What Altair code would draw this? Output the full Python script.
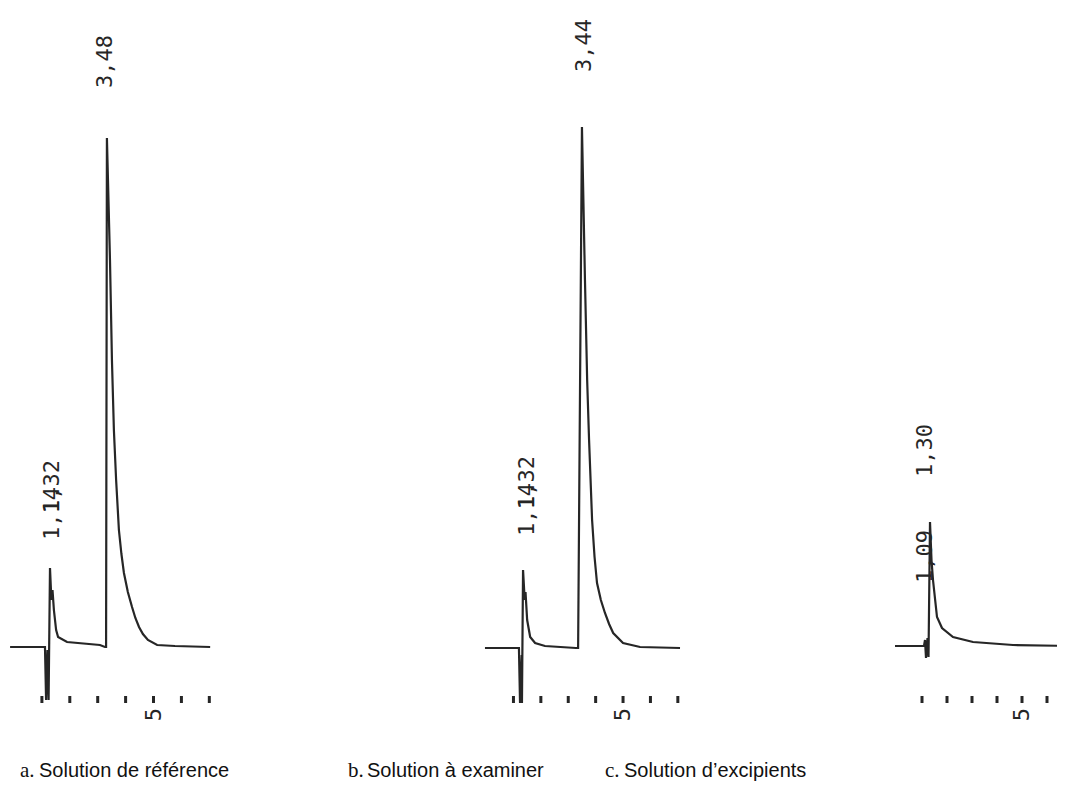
import altair as alt
import pandas as pd

# ---------------- data ----------------
# Panel a: Solution de référence (time in min, signal in arbitrary units)
a_time = [-0.14, 1.11, 1.15, 1.20, 1.24, 1.29, 1.34, 1.38, 1.43, 1.51, 1.58, 1.90, 3.08,
          3.26, 3.30, 3.33, 3.44, 3.51, 3.58, 3.66, 3.76, 3.85, 3.94, 4.08, 4.23, 4.35,
          4.48, 4.62, 4.80, 5.13, 5.77, 7.03]
a_signal = [0, 0, -53, -3, -53, 79, 47, 57, 37, 17, 10, 5, 2,
            0, 0, 509, 387, 287, 217, 167, 117, 93, 74, 55, 40, 29, 20, 13, 7, 2, 1, 0]

# Panel b: Solution à examiner
b_time = [-0.04, 1.20, 1.24, 1.30, 1.31, 1.35, 1.41, 1.44, 1.50, 1.61, 1.79, 2.15, 3.28,
          3.36, 3.50, 3.61, 3.69, 3.76, 3.87, 3.96, 4.05, 4.19, 4.34, 4.49, 4.64, 5.00, 5.62, 7.08]
b_signal = [-1, -1, -56, -8, -56, 77, 47, 55, 27, 10, 4, 1, -1,
            -1, 520, 367, 267, 207, 127, 90, 64, 47, 34, 23, 14, 4, 0, -1]

# Panel c: Solution d'excipients
c_time = [-0.08, 1.08, 1.12, 1.16, 1.22, 1.26, 1.32, 1.38, 1.44, 1.60, 1.80, 2.24, 3.04, 4.64, 6.92]
c_signal = [1, 1, 7, -11, 9, -10, 125, 87, 67, 30, 19, 10, 5, 2, 1]

# retention-time labels: text, time, signal level of the label's lower end
a_labels = ["3,48", "1,14", "1,32"]
a_label_time = [3.26, 1.36, 1.36]
a_label_sig = [559, 107, 134]

b_labels = ["3,44", "1,14", "1,32"]
b_label_time = [3.58, 1.50, 1.50]
b_label_sig = [575, 111, 138]

c_labels = ["1,30", "1,09"]
c_label_time = [1.12, 1.12]
c_label_sig = [170, 64]

# time-axis ticks (minutes) and the one labelled tick
a_ticks = [1, 2, 3, 4, 5, 6, 7]
b_ticks = [1, 2, 3, 4, 5, 6, 7]
c_ticks = [1, 2, 3, 4, 5, 6]
tick_label = ["5"]
tick_label_time = [5]

letters = ["a.", "b.", "c."]
captions = ["Solution de référence", "Solution à examiner", "Solution d\u2019excipients"]

# ---------------- layout / style ----------------
W, H = 1049, 776
Y_DOMAIN = [-137, 639]
INK = "#262626"
MONO = "DejaVu Sans Mono"

panel_domains = {
    "a": [-0.215, 37.38],
    "b": [-17.45, 20.84],
    "c": [-35.56, 6.40],
}
caption_x = [12, 340, 597]


def panel(key, times, signal, ticks, labels, label_t, label_s):
    xs = alt.Scale(domain=panel_domains[key], nice=False, zero=False)
    ys = alt.Scale(domain=Y_DOMAIN, nice=False, zero=False)
    trace_df = pd.DataFrame({"t": times, "s": signal, "i": list(range(len(times)))})
    trace = alt.Chart(trace_df).mark_line(color=INK, strokeWidth=2.2, strokeJoin="miter").encode(
        x=alt.X("t:Q", scale=xs, axis=None),
        y=alt.Y("s:Q", scale=ys, axis=None),
        order="i:Q",
    )
    tick_df = pd.DataFrame({"t": ticks, "top": [-49] * len(ticks), "bot": [-56] * len(ticks)})
    tick = alt.Chart(tick_df).mark_rule(color=INK, strokeWidth=3).encode(
        x=alt.X("t:Q", scale=xs, axis=None),
        y=alt.Y("top:Q", scale=ys, axis=None),
        y2="bot:Q",
    )
    five_df = pd.DataFrame({"t": tick_label_time, "txt": tick_label, "s": [-61]})
    five = alt.Chart(five_df).mark_text(
        angle=270, align="right", baseline="middle", font=MONO, fontSize=22, color=INK
    ).encode(
        x=alt.X("t:Q", scale=xs, axis=None),
        y=alt.Y("s:Q", scale=ys, axis=None),
        text="txt:N",
    )
    lab_df = pd.DataFrame({"t": label_t, "s": label_s, "txt": labels})
    lab = alt.Chart(lab_df).mark_text(
        angle=270, align="left", baseline="middle", font=MONO, fontSize=22, color=INK
    ).encode(
        x=alt.X("t:Q", scale=xs, axis=None),
        y=alt.Y("s:Q", scale=ys, axis=None),
        text="txt:N",
    )
    return alt.layer(trace, tick, five, lab)


pa = panel("a", a_time, a_signal, a_ticks, a_labels, a_label_time, a_label_sig)
pb = panel("b", b_time, b_signal, b_ticks, b_labels, b_label_time, b_label_sig)
pc = panel("c", c_time, c_signal, c_ticks, c_labels, c_label_time, c_label_sig)

cap_layers = []
for i in range(3):
    df = pd.DataFrame({"letter": [letters[i]], "cap": [captions[i]]})
    letter = alt.Chart(df).mark_text(
        align="left", baseline="alphabetic", font="Liberation Serif", fontSize=21, color="#111"
    ).encode(x=alt.value(caption_x[i]), y=alt.value(769), text="letter:N")
    cap = alt.Chart(df).mark_text(
        align="left", baseline="alphabetic", font="Liberation Sans", fontSize=20, color="#111"
    ).encode(x=alt.value(caption_x[i] + 19), y=alt.value(769), text="cap:N")
    cap_layers += [letter, cap]

chart = alt.layer(pa, pb, pc, *cap_layers).resolve_scale(x="independent").properties(
    width=W, height=H, padding=0, autosize=alt.AutoSizeParams(type="none"),
    background="white",
).configure_view(stroke=None)

chart.save("out.html", embed_options={"renderer": "svg", "actions": False})
